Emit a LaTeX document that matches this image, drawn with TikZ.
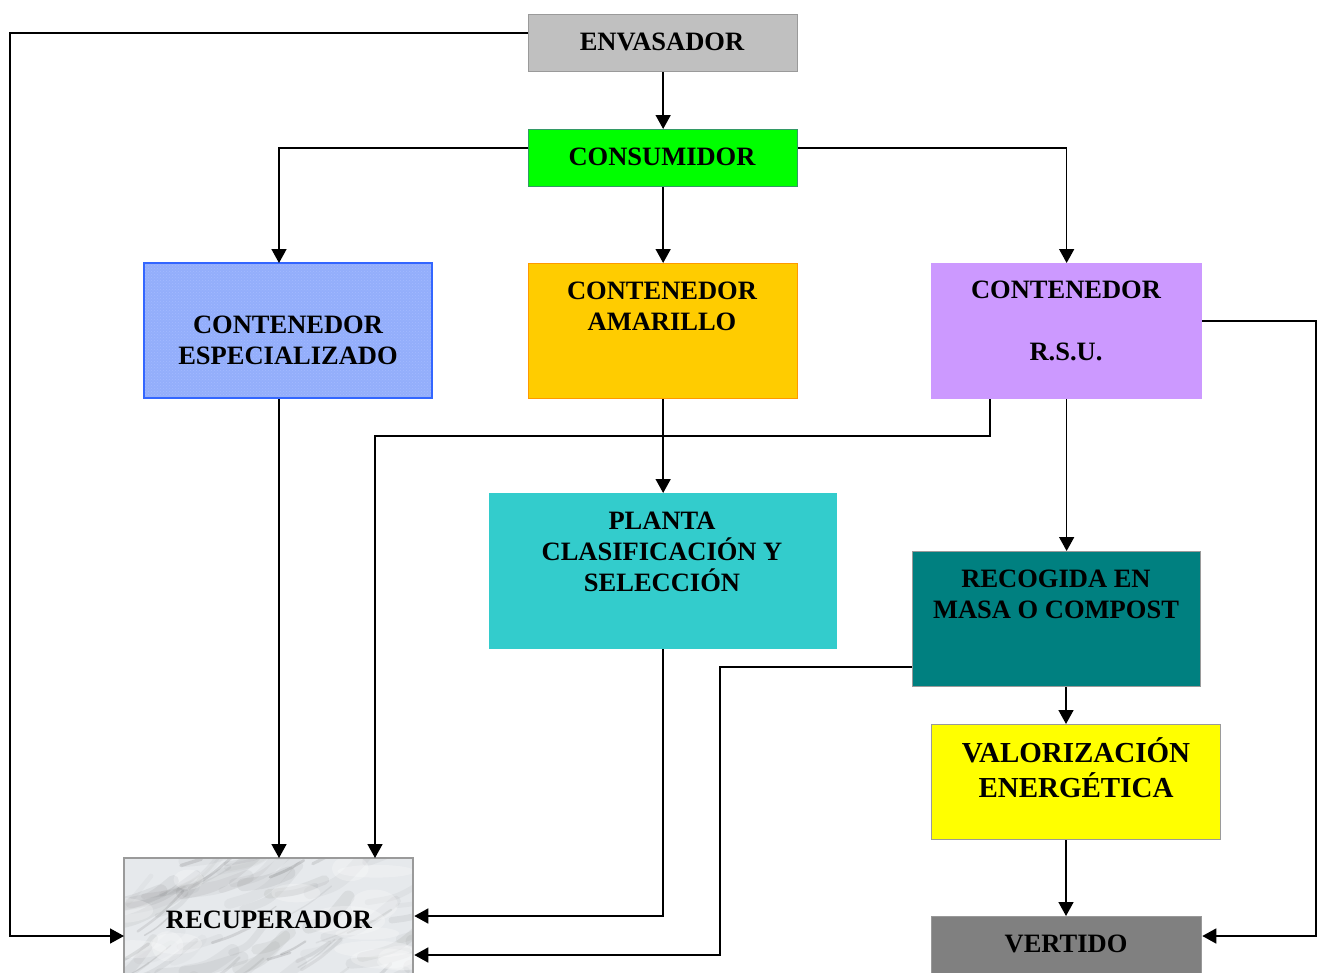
\documentclass[tikz,border=0pt]{standalone}
\usepackage{fontspec}
\setmainfont{Liberation Serif}
\usetikzlibrary{arrows.meta,patterns,calc}
\definecolor{grisenv}{HTML}{C0C0C0}
\definecolor{grisborde}{HTML}{9A9A9A}
\definecolor{verde}{HTML}{00FF00}
\definecolor{verdeborde}{HTML}{339966}
\definecolor{azul}{HTML}{93AEFB}
\definecolor{azulborde}{HTML}{3366FF}
\definecolor{amarillo}{HTML}{FFCC00}
\definecolor{naranja}{HTML}{FF9900}
\definecolor{lila}{HTML}{CC99FF}
\definecolor{turquesa}{HTML}{33CCCC}
\definecolor{teal}{HTML}{008080}
\definecolor{limon}{HTML}{FFFF00}
\definecolor{gris}{HTML}{808080}
\definecolor{marmol}{HTML}{E6E9EC}
\tikzset{
  caja/.style={draw=grisborde, line width=1.3pt, inner sep=0pt, anchor=north west},
  rotulo/.style={font=\bfseries\fontsize{26.5}{31}\selectfont, align=center, inner sep=0pt},
  flecha/.style={line width=1.6pt, -{Triangle[length=14pt,width=15pt]}},
}
\begin{document}
\begin{tikzpicture}[x=1pt,y=-1pt]
\useasboundingbox (0,0) rectangle (1320,972);
\clip (0,0) rectangle (1320,972);

% boxes
\node[caja, fill=grisenv, minimum width=269pt, minimum height=57pt] (env) at (528,14) {};
\node[caja, fill=verde, draw=verdeborde, minimum width=269pt, minimum height=57pt] (cons) at (528,129) {};
\node[caja, fill=azul, draw=azulborde, minimum width=288pt, minimum height=135pt] (esp) at (144,263) {};
\fill[pattern=crosshatch dots, pattern color=azulborde!45] (145,264) rectangle (431,397);
\draw[azulborde, line width=1.3pt] (144,263) rectangle (432,398);
\node[caja, fill=amarillo, draw=naranja, minimum width=269pt, minimum height=135pt] (ama) at (528,263) {};
\node[caja, fill=lila, draw=lila, minimum width=270pt, minimum height=135pt] (rsu) at (931,263) {};
\node[caja, fill=turquesa, draw=turquesa, minimum width=347pt, minimum height=155pt] (pla) at (489,493) {};
\node[caja, fill=teal, minimum width=288pt, minimum height=135pt] (rec) at (912,551) {};
\node[caja, fill=limon, minimum width=289pt, minimum height=115pt] (val) at (931,724) {};
\node[caja, fill=gris, draw=gris!80, minimum width=270pt, minimum height=80pt] (ver) at (931,916) {};

% marble-textured recovery box
\node[caja, fill=marmol, minimum width=289pt, minimum height=130pt] (recu) at (124,858) {};
\begin{scope}
  \clip (125,859) rectangle (412,988);
  \pgfmathsetseed{23}
  % soft veins, several passes of wide faint strokes
  \foreach \i in {1,...,60}{
    \pgfmathsetmacro{\px}{90+rnd*340}
    \pgfmathsetmacro{\py}{850+rnd*150}
    \pgfmathsetmacro{\lw}{4+rnd*10}
    \pgfmathsetmacro{\ln}{25+rnd*70}
    \pgfmathsetmacro{\sl}{0.2+rnd*0.7}
    \pgfmathsetmacro{\op}{0.03+rnd*0.07}
    \draw[black!60, line width=\lw pt, opacity=\op, line cap=round]
      (\px,\py) .. controls ($(\px,\py)+(\ln*0.5,-\ln*\sl*0.2)$) .. ($(\px,\py)+(\ln,-\ln*\sl)$);
  }
  \foreach \i in {1,...,25}{
    \pgfmathsetmacro{\px}{100+rnd*320}
    \pgfmathsetmacro{\py}{855+rnd*140}
    \pgfmathsetmacro{\lw}{1+rnd*2.5}
    \pgfmathsetmacro{\ln}{15+rnd*35}
    \pgfmathsetmacro{\sl}{0.3+rnd*0.6}
    \pgfmathsetmacro{\op}{0.06+rnd*0.12}
    \draw[black!70, line width=\lw pt, opacity=\op, line cap=round]
      (\px,\py) .. controls ($(\px,\py)+(\ln*0.5,-\ln*\sl*0.4)$) .. ($(\px,\py)+(\ln,-\ln*\sl)$);
  }
  \foreach \i in {1,...,15}{
    \pgfmathsetmacro{\px}{120+rnd*290}
    \pgfmathsetmacro{\py}{860+rnd*120}
    \pgfmathsetmacro{\ea}{15+rnd*25}
    \pgfmathsetmacro{\eb}{6+rnd*10}
    \fill[white, opacity=0.25] (\px,\py) ellipse ({\ea pt} and {\eb pt});
  }
\end{scope}
\draw[grisborde, line width=1.3pt] (124,975) -- (124,858) -- (413,858) -- (413,975);

% labels
\node[rotulo] (env-t) at (662,42) {ENVASADOR};
\node[rotulo] (cons-t) at (662,157) {CONSUMIDOR};
\node[rotulo] (esp-t) at (288,340) {CONTENEDOR\\ESPECIALIZADO};
\node[rotulo] (ama-t) at (662,306) {CONTENEDOR\\AMARILLO};
\node[rotulo] (rsu-t1) at (1066,290) {CONTENEDOR};
\node[rotulo] (rsu-t2) at (1066,352) {R.S.U.};
\node[rotulo] (pla-t) at (662,552) {PLANTA\\CLASIFICACIÓN Y\\SELECCIÓN};
\node[rotulo] (rec-t) at (1056,594) {RECOGIDA EN\\MASA O COMPOST};
\node[rotulo, font=\bfseries\fontsize{29}{35}\selectfont] (val-t) at (1076,768) {VALORIZACIÓN\\ENERGÉTICA};
\node[rotulo] (ver-t) at (1066,944) {VERTIDO};
\node[rotulo] (recu-t) at (269,920) {RECUPERADOR};

% connectors
\draw[flecha] (env.south) -- (cons.north);
\draw[flecha] (env.west |- 0,33) -| (10,936) -- (recu.west |- 0,936);
\draw[flecha] (cons.west |- 0,148) -| (esp.north -| 279,0);
\draw[flecha] (cons.south) -- (ama.north);
\draw[flecha] (cons.east |- 0,148) -| (rsu.north);
\draw[flecha] (esp.south -| 279,0) -- (recu.north -| 279,0);
\draw[flecha] (rsu.south -| 990,0) |- (375,436) -- (recu.north -| 375,0);
\draw[flecha] (ama.south) -- (pla.north);
\draw[flecha] (rsu.south) -- (rec.north -| rsu.south);
\draw[flecha] (rsu.east |- 0,321) -| (1316,936) -- (ver.east |- 0,936);
\draw[flecha] (pla.south) |- (recu.east |- 0,916);
\draw[flecha] (rec.west |- 0,667) -| (720,955) -- (recu.east |- 0,955);
\draw[flecha] (rec.south -| 1066,0) -- (val.north -| 1066,0);
\draw[flecha] (val.south -| 1066,0) -- (ver.north -| 1066,0);
\end{tikzpicture}
\end{document}
